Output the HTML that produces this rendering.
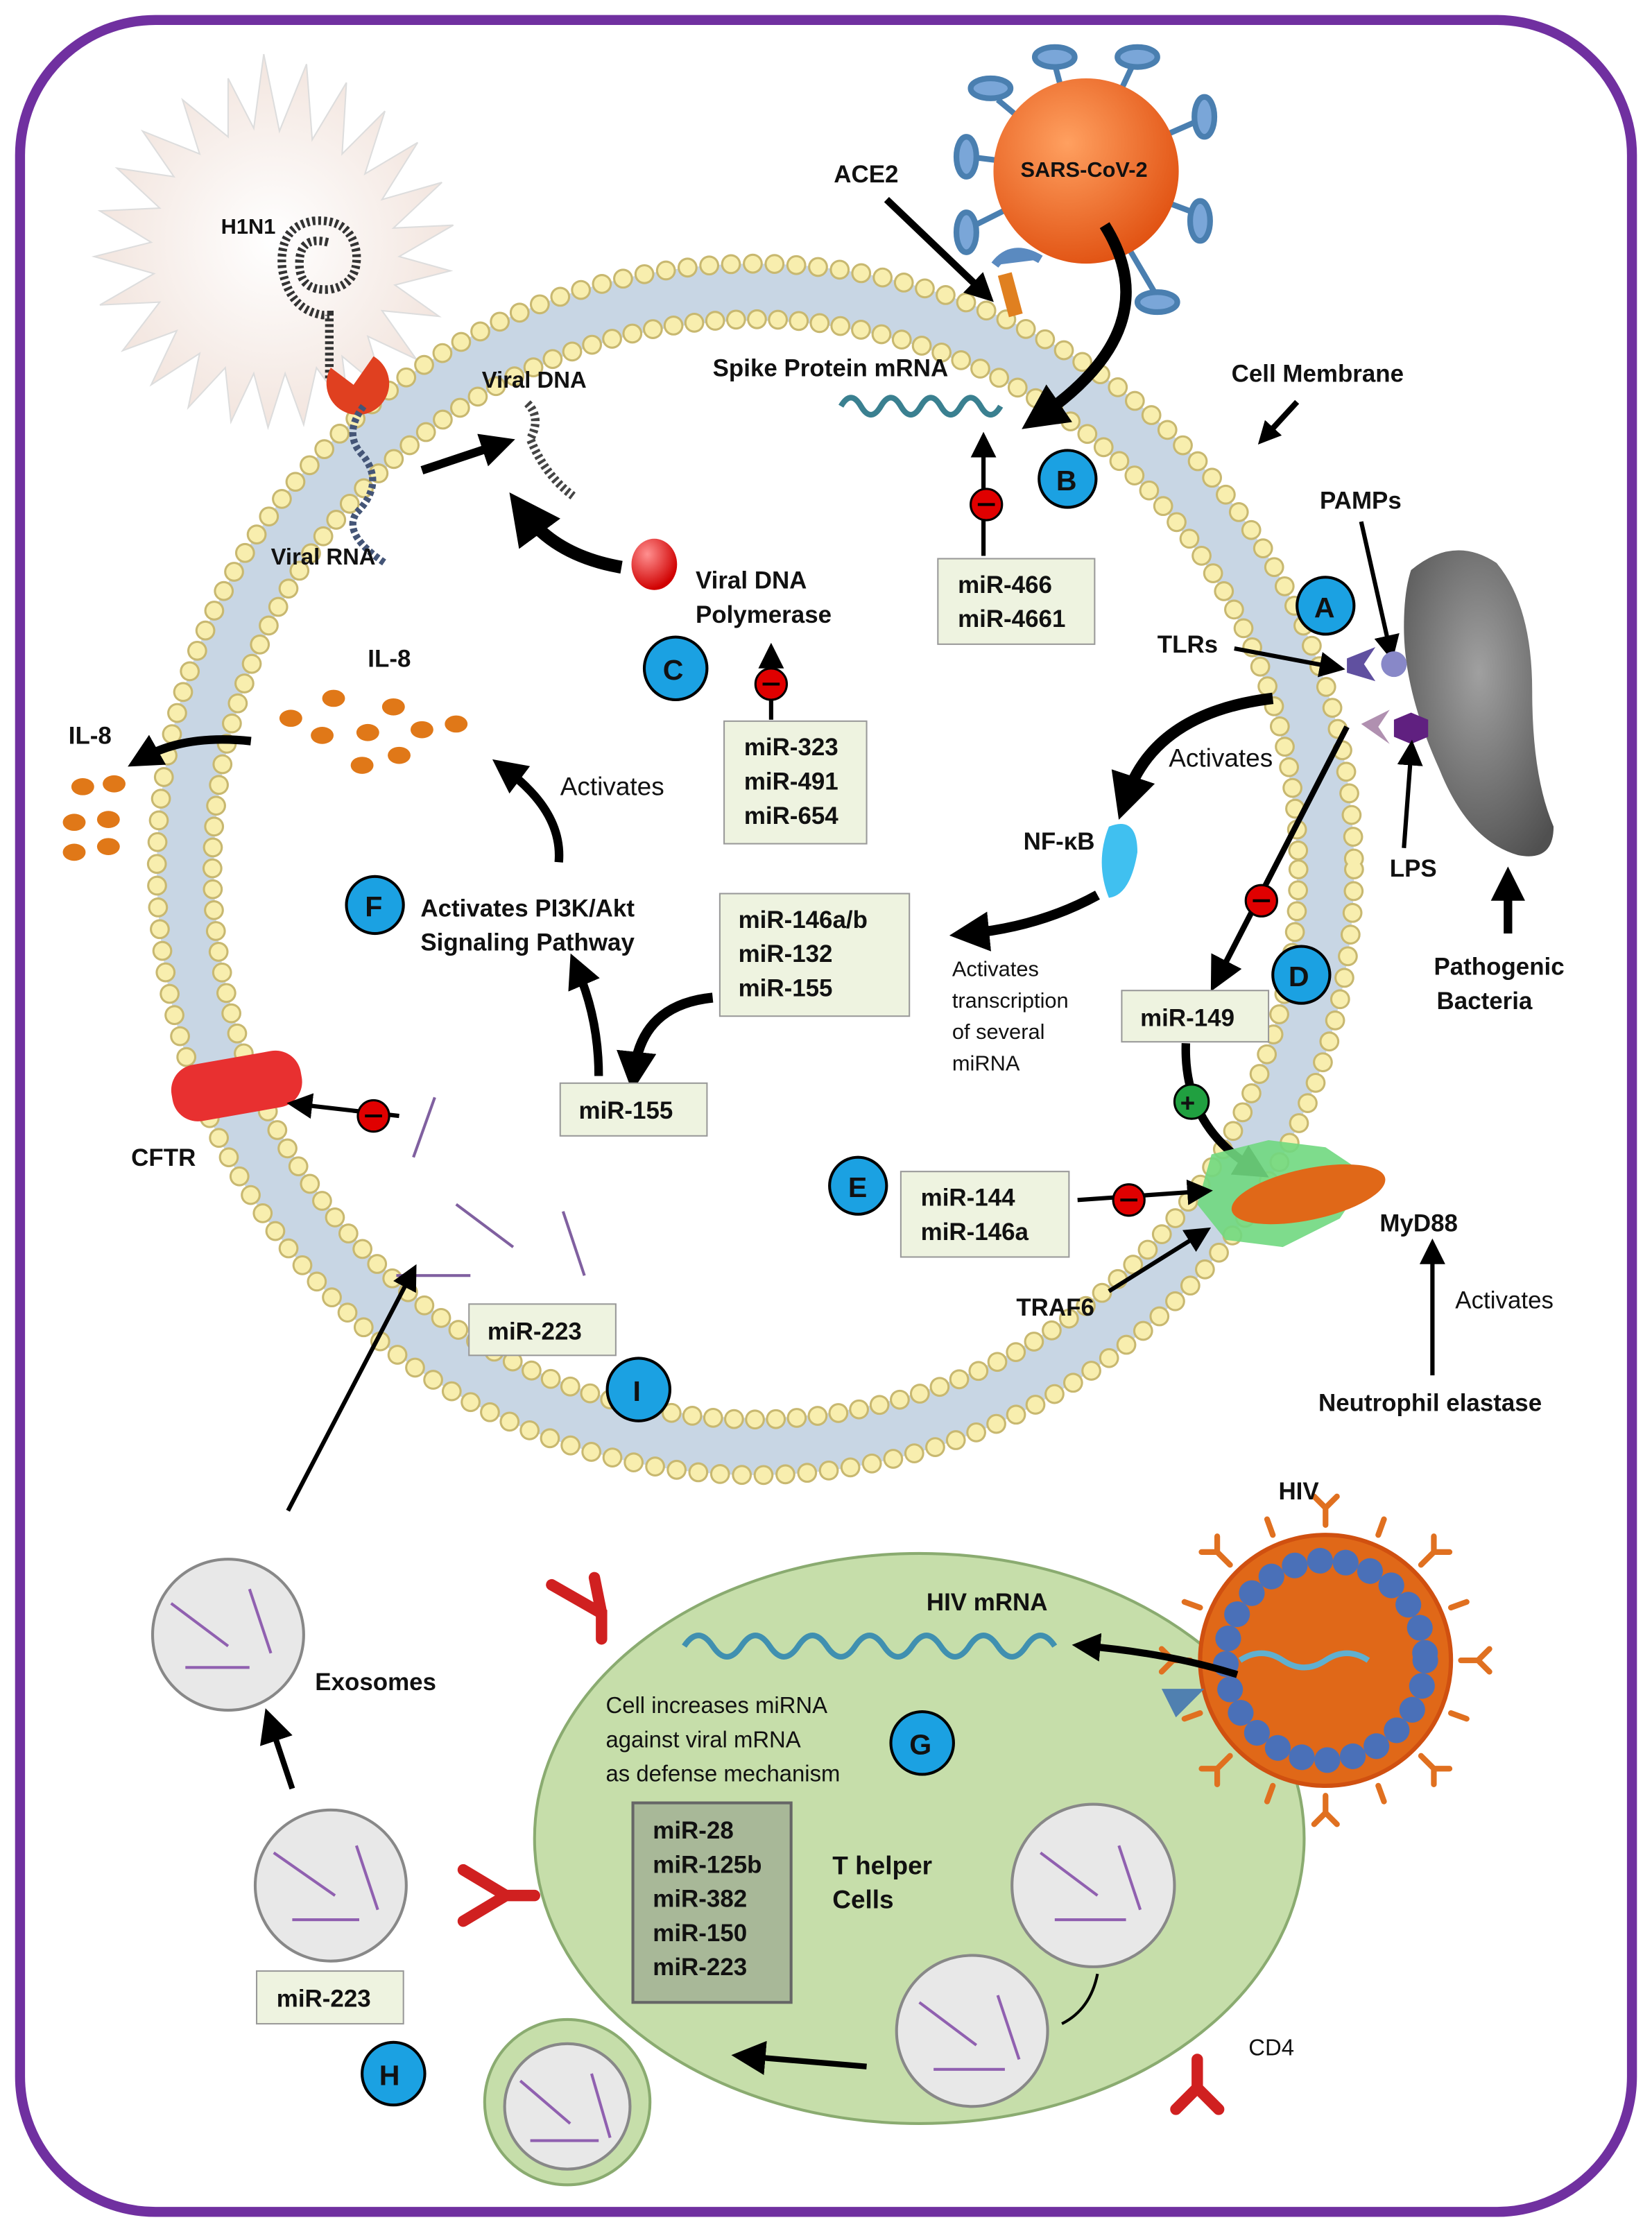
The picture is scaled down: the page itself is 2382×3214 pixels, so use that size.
<!DOCTYPE html>
<html><head><meta charset="utf-8"><style>
html,body{margin:0;padding:0;background:#fff}
svg{display:block}
text{font-family:"Liberation Sans",sans-serif;font-weight:bold;fill:#111}
.n{font-weight:normal}
</style></head><body>
<svg width="2382" height="3214" viewBox="0 0 1159 1564" xmlns="http://www.w3.org/2000/svg">
<defs>
<marker id="ah" viewBox="0 0 10 10" refX="5" refY="5" markerWidth="4" markerHeight="4" orient="auto"><path d="M0,0L10,5L0,10z" fill="#000"/></marker>
<marker id="ah2" viewBox="0 0 10 10" refX="5" refY="5" markerWidth="6" markerHeight="6" orient="auto"><path d="M0,0L10,5L0,10z" fill="#000"/></marker>
<radialGradient id="org" cx="0.4" cy="0.35" r="0.7"><stop offset="0" stop-color="#ffa060"/><stop offset="1" stop-color="#e05010"/></radialGradient>
<radialGradient id="red" cx="0.35" cy="0.3" r="0.7"><stop offset="0" stop-color="#ff9090"/><stop offset="1" stop-color="#d00000"/></radialGradient>
<radialGradient id="star" cx="0.5" cy="0.5" r="0.6"><stop offset="0" stop-color="#fff"/><stop offset="1" stop-color="#f0e0d8"/></radialGradient>
<radialGradient id="bac" cx="0.5" cy="0.4" r="0.7"><stop offset="0" stop-color="#a0a0a0"/><stop offset="1" stop-color="#505050"/></radialGradient>
</defs>
<rect x="14" y="14" width="1131" height="1538" rx="95" fill="#fff" stroke="#7030a0" stroke-width="7"/>

<polygon fill="url(#star)" stroke="#ddd" stroke-width="1" points="
185,38 196,92 215,45 219,98 243,58 240,108 270,78 256,122 293,100 268,140 310,128 276,160 318,158 280,180 316,190 277,200 308,222 268,218 292,252 258,236 270,275 240,250 245,290 222,258 213,298 200,262 188,300 178,262 162,296 158,258 132,286 140,248 106,270 124,232 86,246 112,212 70,214 108,192 66,180 106,170 70,148 112,146 82,118 122,124 100,92 140,108 128,70 160,96 160,55 178,90"/>
<text x="155" y="164" font-size="15">H1N1</text>
<path d="M230,170 q-20,-5 -20,15 q0,20 22,18 q20,-4 18,-26 q-4,-24 -30,-22 q-25,4 -22,34 q5,28 28,32 l5,0 l0,45" fill="none" stroke="#333" stroke-width="6" stroke-dasharray="2 2"/>

<ellipse cx="530" cy="610" rx="400" ry="405" fill="none" stroke="#c8d6e4" stroke-width="40"/>
<ellipse cx="530" cy="610" rx="420" ry="425" fill="none" stroke="#c8b870" stroke-width="14" stroke-dasharray="0 15.3" stroke-linecap="round"/>
<ellipse cx="530" cy="610" rx="420" ry="425" fill="none" stroke="#f8eeae" stroke-width="11" stroke-dasharray="0 15.3" stroke-linecap="round"/>
<ellipse cx="530" cy="610" rx="381" ry="386" fill="none" stroke="#c8b870" stroke-width="14" stroke-dasharray="0 14.7" stroke-linecap="round"/>
<ellipse cx="530" cy="610" rx="381" ry="386" fill="none" stroke="#f8eeae" stroke-width="11" stroke-dasharray="0 14.7" stroke-linecap="round"/>

<path d="M232,258 a22,22 0 1 0 30,-8 l-14,20 z" fill="#e04020"/>
<path d="M255,285 q-15,20 0,35 q15,20 -5,40 q-10,15 20,35" fill="none" stroke="#457" stroke-width="5" stroke-dasharray="3 2"/>
<text x="190" y="396" font-size="16">Viral RNA</text>
<text x="338" y="272" font-size="16">Viral DNA</text>
<path d="M370,283 q10,10 2,25 q10,25 30,40" fill="none" stroke="#444" stroke-width="6" stroke-dasharray="2 2"/>
<line x1="296" y1="330" x2="350" y2="312" stroke="#000" stroke-width="6" marker-end="url(#ah)"/>
<path d="M436,398 Q390,390 368,360" fill="none" stroke="#000" stroke-width="9" marker-end="url(#ah)"/>
<ellipse cx="459" cy="396" rx="16" ry="18" fill="url(#red)"/>
<text x="488" y="413" font-size="17">Viral DNA</text>
<text x="488" y="437" font-size="17">Polymerase</text>

<g stroke="#4a7fb0" stroke-width="4" fill="#7aa6d8">
<line x1="760" y1="120" x2="700" y2="70"/><ellipse cx="695" cy="62" rx="14" ry="7"/>
<line x1="760" y1="120" x2="740" y2="45"/><ellipse cx="740" cy="40" rx="14" ry="7"/>
<line x1="760" y1="120" x2="795" y2="45"/><ellipse cx="798" cy="40" rx="14" ry="7"/>
<line x1="760" y1="120" x2="840" y2="85"/><ellipse cx="845" cy="82" rx="7" ry="14"/>
<line x1="760" y1="120" x2="840" y2="150"/><ellipse cx="842" cy="155" rx="7" ry="14"/>
<line x1="760" y1="120" x2="810" y2="205"/><ellipse cx="812" cy="212" rx="14" ry="7"/>
<line x1="760" y1="120" x2="680" y2="110"/><ellipse cx="678" cy="110" rx="7" ry="14"/>
<line x1="760" y1="120" x2="680" y2="160"/><ellipse cx="678" cy="163" rx="7" ry="14"/>
</g>
<circle cx="762" cy="120" r="65" fill="url(#org)"/>
<text x="716" y="124" font-size="15">SARS-CoV-2</text>
<text x="585" y="128" font-size="17">ACE2</text>
<line x1="622" y1="140" x2="690" y2="205" stroke="#000" stroke-width="5" marker-end="url(#ah)"/>
<path d="M698,186 q12,-16 32,-4" fill="#5a8ac0" stroke="#5a8ac0" stroke-width="6"/>
<rect x="702" y="192" width="10" height="30" fill="#e08020" transform="rotate(-15 707 200)"/>
<path d="M775,158 Q820,230 730,292" fill="none" stroke="#000" stroke-width="8" marker-end="url(#ah)"/>
<text x="500" y="264" font-size="17">Spike Protein mRNA</text>
<path d="M590,285 q7,-12 14,0 t14,0 t14,0 t14,0 t14,0 t14,0 t14,0 t14,0" fill="none" stroke="#3a8090" stroke-width="4"/>
<text x="864" y="268" font-size="17">Cell Membrane</text>
<line x1="910" y1="282" x2="888" y2="306" stroke="#000" stroke-width="4" marker-end="url(#ah)"/>
<circle cx="749" cy="336" r="20" fill="#1ba1e2" stroke="#000" stroke-width="2"/><text x="741" y="344" font-size="20">B</text>
<line x1="690" y1="390" x2="690" y2="312" stroke="#000" stroke-width="3" marker-end="url(#ah2)"/>
<circle cx="692" cy="354" r="11" fill="#e00000" stroke="#000" stroke-width="1.5"/><rect x="686" y="353" width="12" height="2" fill="#000"/>
<rect x="658" y="392" width="110" height="60" fill="#eef3e0" stroke="#999"/>
<text x="672" y="416" font-size="17">miR-466</text><text x="672" y="440" font-size="17">miR-4661</text>

<path d="M990,400 q30,-25 60,-5 q25,30 25,90 q0,60 15,95 q0,25 -25,20 q-35,-10 -55,-60 q-25,-55 -25,-100 q0,-25 5,-40z" fill="url(#bac)"/>
<text x="926" y="357" font-size="17">PAMPs</text>
<line x1="955" y1="366" x2="975" y2="455" stroke="#000" stroke-width="3" marker-end="url(#ah2)"/>
<circle cx="930" cy="425" r="20" fill="#1ba1e2" stroke="#000" stroke-width="2"/><text x="922" y="433" font-size="20">A</text>
<text x="812" y="458" font-size="17">TLRs</text>
<line x1="866" y1="455" x2="935" y2="468" stroke="#000" stroke-width="3" marker-end="url(#ah2)"/>
<path d="M945,462 l20,-8 l-8,12 l8,12 l-20,-6z" fill="#6050a0"/><circle cx="978" cy="466" r="9" fill="#8888c8"/>
<path d="M955,508 l20,-10 l-8,12 l8,12z" fill="#b090b0"/><polygon points="990,500 1002,505 1002,517 990,522 978,517 978,505" fill="#602080"/>
<line x1="985" y1="595" x2="990" y2="528" stroke="#000" stroke-width="3" marker-end="url(#ah2)"/>
<text x="975" y="615" font-size="17">LPS</text>
<line x1="1058" y1="655" x2="1058" y2="620" stroke="#000" stroke-width="6" marker-end="url(#ah)"/>
<text x="1006" y="684" font-size="17">Pathogenic</text><text x="1008" y="708" font-size="17">Bacteria</text>
<path d="M893,490 Q810,500 790,560" fill="none" stroke="#000" stroke-width="8" marker-end="url(#ah)"/>
<text x="820" y="538" font-size="18" class="n">Activates</text>
<text x="718" y="596" font-size="17">NF-κB</text>
<path d="M778,580 q20,-8 20,18 q-5,30 -20,32 q-10,-25 0,-50z" fill="#40c0f0"/>
<path d="M770,628 Q730,650 680,655" fill="none" stroke="#000" stroke-width="7" marker-end="url(#ah)"/>
<text class="n" x="668" y="685" font-size="15">Activates</text><text class="n" x="668" y="707" font-size="15">transcription</text>
<text class="n" x="668" y="729" font-size="15">of several</text><text class="n" x="668" y="751" font-size="15">miRNA</text>
<line x1="945" y1="510" x2="855" y2="685" stroke="#000" stroke-width="4" marker-end="url(#ah2)"/>
<circle cx="885" cy="632" r="11" fill="#e00000" stroke="#000" stroke-width="1.5"/><rect x="879" y="631" width="12" height="2" fill="#000"/>
<circle cx="913" cy="684" r="20" fill="#1ba1e2" stroke="#000" stroke-width="2"/><text x="904" y="692" font-size="20">D</text>
<rect x="787" y="695" width="103" height="36" fill="#eef3e0" stroke="#999"/><text x="800" y="720" font-size="17">miR-149</text>
<path d="M832,732 Q830,790 880,820" fill="none" stroke="#000" stroke-width="6" marker-end="url(#ah)"/>
<circle cx="836" cy="773" r="12" fill="#20a040" stroke="#000" stroke-width="1.5"/><text x="828" y="780" font-size="18">+</text>
<path d="M850,810 l40,-10 l40,5 l30,20 l-20,30 l-40,20 l-40,-5 l-20,-25z" fill="#70d880" opacity="0.9"/>
<ellipse cx="918" cy="838" rx="55" ry="18" fill="#e06818" transform="rotate(-12 918 838)"/>
<text x="968" y="864" font-size="17">MyD88</text>
<circle cx="602" cy="832" r="20" fill="#1ba1e2" stroke="#000" stroke-width="2"/><text x="595" y="840" font-size="20">E</text>
<rect x="632" y="822" width="118" height="60" fill="#eef3e0" stroke="#999"/>
<text x="646" y="846" font-size="17">miR-144</text><text x="646" y="870" font-size="17">miR-146a</text>
<line x1="756" y1="842" x2="842" y2="836" stroke="#000" stroke-width="3" marker-end="url(#ah2)"/>
<circle cx="792" cy="842" r="11" fill="#e00000" stroke="#000" stroke-width="1.5"/><rect x="786" y="841" width="12" height="2" fill="#000"/>
<text x="713" y="923" font-size="17">TRAF6</text>
<line x1="778" y1="906" x2="842" y2="866" stroke="#000" stroke-width="3" marker-end="url(#ah2)"/>
<line x1="1005" y1="965" x2="1005" y2="878" stroke="#000" stroke-width="3" marker-end="url(#ah2)"/>
<text class="n" x="1021" y="918" font-size="17">Activates</text>
<text x="925" y="990" font-size="17">Neutrophil elastase</text>

<circle cx="474" cy="469" r="22" fill="#1ba1e2" stroke="#000" stroke-width="2"/><text x="465" y="477" font-size="20">C</text>
<line x1="541" y1="505" x2="541" y2="460" stroke="#000" stroke-width="3" marker-end="url(#ah2)"/>
<circle cx="541" cy="480" r="11" fill="#e00000" stroke="#000" stroke-width="1.5"/><rect x="535" y="479" width="12" height="2" fill="#000"/>
<rect x="508" y="506" width="100" height="86" fill="#eef3e0" stroke="#999"/>
<text x="522" y="530" font-size="17">miR-323</text><text x="522" y="554" font-size="17">miR-491</text><text x="522" y="578" font-size="17">miR-654</text>
<text x="258" y="468" font-size="17">IL-8</text>
<g fill="#e07818">
<ellipse cx="204" cy="504" rx="8" ry="6"/><ellipse cx="234" cy="490" rx="8" ry="6"/><ellipse cx="276" cy="496" rx="8" ry="6"/><ellipse cx="226" cy="516" rx="8" ry="6"/><ellipse cx="258" cy="514" rx="8" ry="6"/><ellipse cx="296" cy="512" rx="8" ry="6"/><ellipse cx="320" cy="508" rx="8" ry="6"/><ellipse cx="254" cy="537" rx="8" ry="6"/><ellipse cx="280" cy="530" rx="8" ry="6"/>
<ellipse cx="58" cy="552" rx="8" ry="6"/><ellipse cx="80" cy="550" rx="8" ry="6"/><ellipse cx="52" cy="577" rx="8" ry="6"/><ellipse cx="76" cy="575" rx="8" ry="6"/><ellipse cx="52" cy="598" rx="8" ry="6"/><ellipse cx="76" cy="594" rx="8" ry="6"/>
</g>
<text x="48" y="522" font-size="17">IL-8</text>
<path d="M176,520 Q130,515 100,532" fill="none" stroke="#000" stroke-width="6" marker-end="url(#ah)"/>
<text class="n" x="393" y="558" font-size="18">Activates</text>
<path d="M392,605 Q395,570 355,540" fill="none" stroke="#000" stroke-width="6" marker-end="url(#ah)"/>
<circle cx="263" cy="635" r="20" fill="#1ba1e2" stroke="#000" stroke-width="2"/><text x="256" y="643" font-size="20">F</text>
<text x="295" y="643" font-size="17">Activates PI3K/Akt</text><text x="295" y="667" font-size="17">Signaling Pathway</text>
<rect x="505" y="627" width="133" height="86" fill="#eef3e0" stroke="#999"/>
<text x="518" y="651" font-size="17">miR-146a/b</text><text x="518" y="675" font-size="17">miR-132</text><text x="518" y="699" font-size="17">miR-155</text>
<path d="M500,700 Q450,705 445,752" fill="none" stroke="#000" stroke-width="7" marker-end="url(#ah)"/>
<rect x="393" y="760" width="103" height="37" fill="#eef3e0" stroke="#999"/><text x="406" y="785" font-size="17">miR-155</text>
<path d="M420,755 Q420,715 405,680" fill="none" stroke="#000" stroke-width="6" marker-end="url(#ah)"/>
<rect x="120" y="742" width="92" height="40" rx="18" fill="#e83030" transform="rotate(-10 166 762)"/>
<text x="92" y="818" font-size="17">CFTR</text>
<line x1="280" y1="783" x2="210" y2="775" stroke="#000" stroke-width="3" marker-end="url(#ah2)"/>
<circle cx="262" cy="783" r="11" fill="#e00000" stroke="#000" stroke-width="1.5"/><rect x="256" y="782" width="12" height="2" fill="#000"/>
<g stroke="#8060a0" stroke-width="2">
<line x1="290" y1="812" x2="305" y2="770"/><line x1="320" y1="845" x2="360" y2="875"/><line x1="395" y1="850" x2="410" y2="895"/><line x1="278" y1="895" x2="330" y2="895"/>
</g>
<rect x="329" y="915" width="103" height="36" fill="#eef3e0" stroke="#999"/><text x="342" y="940" font-size="17">miR-223</text>
<circle cx="448" cy="975" r="22" fill="#1ba1e2" stroke="#000" stroke-width="2"/><text x="444" y="983" font-size="20">I</text>
<line x1="202" y1="1060" x2="288" y2="895" stroke="#000" stroke-width="3" marker-end="url(#ah2)"/>

<ellipse cx="645" cy="1290" rx="270" ry="200" fill="#c6deaa" stroke="#8aab70" stroke-width="2"/>
<circle cx="398" cy="1475" r="58" fill="#c6deaa" stroke="#8aab70" stroke-width="2"/>
<circle cx="398" cy="1478" r="44" fill="#e8e8e8" stroke="#888" stroke-width="2"/>
<path d="M422,1150 l0,-18 l-35,-20 M422,1132 l-5,-25" stroke="#d02020" stroke-width="8" fill="none" stroke-linecap="round"/>
<path d="M375,1330 l-20,0 l-30,-18 M355,1330 l-30,18" stroke="#d02020" stroke-width="8" fill="none" stroke-linecap="round"/>
<path d="M840,1445 l0,20 l-15,15 M840,1465 l15,15" stroke="#d02020" stroke-width="8" fill="none" stroke-linecap="round"/>
<text class="n" x="876" y="1442" font-size="16">CD4</text>
<path d="M480,1155 q10,-15 20,0 t20,0 t20,0 t20,0 t20,0 t20,0 t20,0 t20,0 t20,0 t20,0 t20,0 t20,0 t20,0" fill="none" stroke="#4090b0" stroke-width="4"/>
<text x="650" y="1130" font-size="17">HIV mRNA</text>
<text class="n" x="425" y="1202" font-size="16">Cell increases miRNA</text>
<text class="n" x="425" y="1226" font-size="16">against viral mRNA</text>
<text class="n" x="425" y="1250" font-size="16">as defense mechanism</text>
<circle cx="647" cy="1223" r="22" fill="#1ba1e2" stroke="#000" stroke-width="2"/><text x="638" y="1231" font-size="20">G</text>
<rect x="444" y="1265" width="111" height="140" fill="#a8b898" stroke="#666" stroke-width="2"/>
<text x="458" y="1290" font-size="17">miR-28</text><text x="458" y="1314" font-size="17">miR-125b</text><text x="458" y="1338" font-size="17">miR-382</text><text x="458" y="1362" font-size="17">miR-150</text><text x="458" y="1386" font-size="17">miR-223</text>
<text x="584" y="1315" font-size="18">T helper</text><text x="584" y="1339" font-size="18">Cells</text>
<circle cx="767" cy="1323" r="57" fill="#e8e8e8" stroke="#888" stroke-width="2"/>
<circle cx="682" cy="1425" r="53" fill="#e8e8e8" stroke="#888" stroke-width="2"/>
<path d="M770,1385 q-5,25 -25,35" fill="none" stroke="#000" stroke-width="2"/>
<line x1="608" y1="1450" x2="525" y2="1443" stroke="#000" stroke-width="4" marker-end="url(#ah2)"/>
<g stroke="#e07020" stroke-width="4" fill="none" stroke-linecap="round">
<path d="M930,1070 l0,-12 l-8,-8 M930,1058 l8,-8"/>
<path d="M930,1260 l0,12 l-8,8 M930,1272 l8,8"/>
<path d="M835,1165 l-12,0 l-8,-8 M823,1165 l-8,8"/>
<path d="M1025,1165 l12,0 l8,-8 M1037,1165 l8,8"/>
<path d="M863,1098 l-9,-9 l0,-11 M854,1089 l-11,0"/>
<path d="M997,1098 l9,-9 l0,-11 M1006,1089 l11,0"/>
<path d="M863,1232 l-9,9 l0,11 M854,1241 l-11,0"/>
<path d="M997,1232 l9,9 l0,11 M1006,1241 l11,0"/>
<path d="M893,1077 l-4,-11 M967,1077 l4,-11 M893,1253 l-4,11 M967,1253 l4,11 M842,1128 l-11,-4 M842,1202 l-11,4 M1018,1128 l11,-4 M1018,1202 l11,4"/>
</g>
<circle cx="930" cy="1165" r="88" fill="#e06818" stroke="#d05010" stroke-width="3"/>
<circle cx="930" cy="1165" r="70" fill="none" stroke="#4a70b8" stroke-width="18" stroke-dasharray="0.1 18" stroke-linecap="round"/>
<text x="897" y="1052" font-size="17">HIV</text>
<path d="M870,1165 q15,-10 30,0 t30,0 t30,0" fill="none" stroke="#60b0d0" stroke-width="4"/>
<path d="M868,1175 Q820,1160 762,1155" fill="none" stroke="#000" stroke-width="5" marker-end="url(#ah)"/>
<polygon points="815,1185 845,1185 825,1205" fill="#5080b0"/>
<circle cx="160" cy="1147" r="53" fill="#e8e8e8" stroke="#888" stroke-width="2"/>
<text x="221" y="1186" font-size="17">Exosomes</text>
<line x1="205" y1="1255" x2="190" y2="1210" stroke="#000" stroke-width="4" marker-end="url(#ah2)"/>
<circle cx="232" cy="1323" r="53" fill="#e8e8e8" stroke="#888" stroke-width="2"/>
<rect x="180" y="1383" width="103" height="37" fill="#eef3e0" stroke="#999"/><text x="194" y="1408" font-size="17">miR-223</text>
<circle cx="276" cy="1455" r="22" fill="#1ba1e2" stroke="#000" stroke-width="2"/><text x="266" y="1463" font-size="20">H</text>
<g stroke="#9060b0" stroke-width="2">
<line x1="120" y1="1125" x2="160" y2="1155"/><line x1="175" y1="1115" x2="190" y2="1160"/><line x1="130" y1="1170" x2="175" y2="1170"/>
<line x1="192" y1="1300" x2="235" y2="1330"/><line x1="250" y1="1295" x2="265" y2="1340"/><line x1="205" y1="1347" x2="252" y2="1347"/>
<line x1="730" y1="1300" x2="770" y2="1330"/><line x1="785" y1="1295" x2="800" y2="1340"/><line x1="740" y1="1347" x2="790" y2="1347"/>
<line x1="645" y1="1405" x2="685" y2="1435"/><line x1="700" y1="1400" x2="715" y2="1445"/><line x1="655" y1="1452" x2="705" y2="1452"/>
<line x1="365" y1="1460" x2="400" y2="1490"/><line x1="415" y1="1455" x2="428" y2="1500"/><line x1="372" y1="1502" x2="420" y2="1502"/>
</g>
</svg>
</body></html>
